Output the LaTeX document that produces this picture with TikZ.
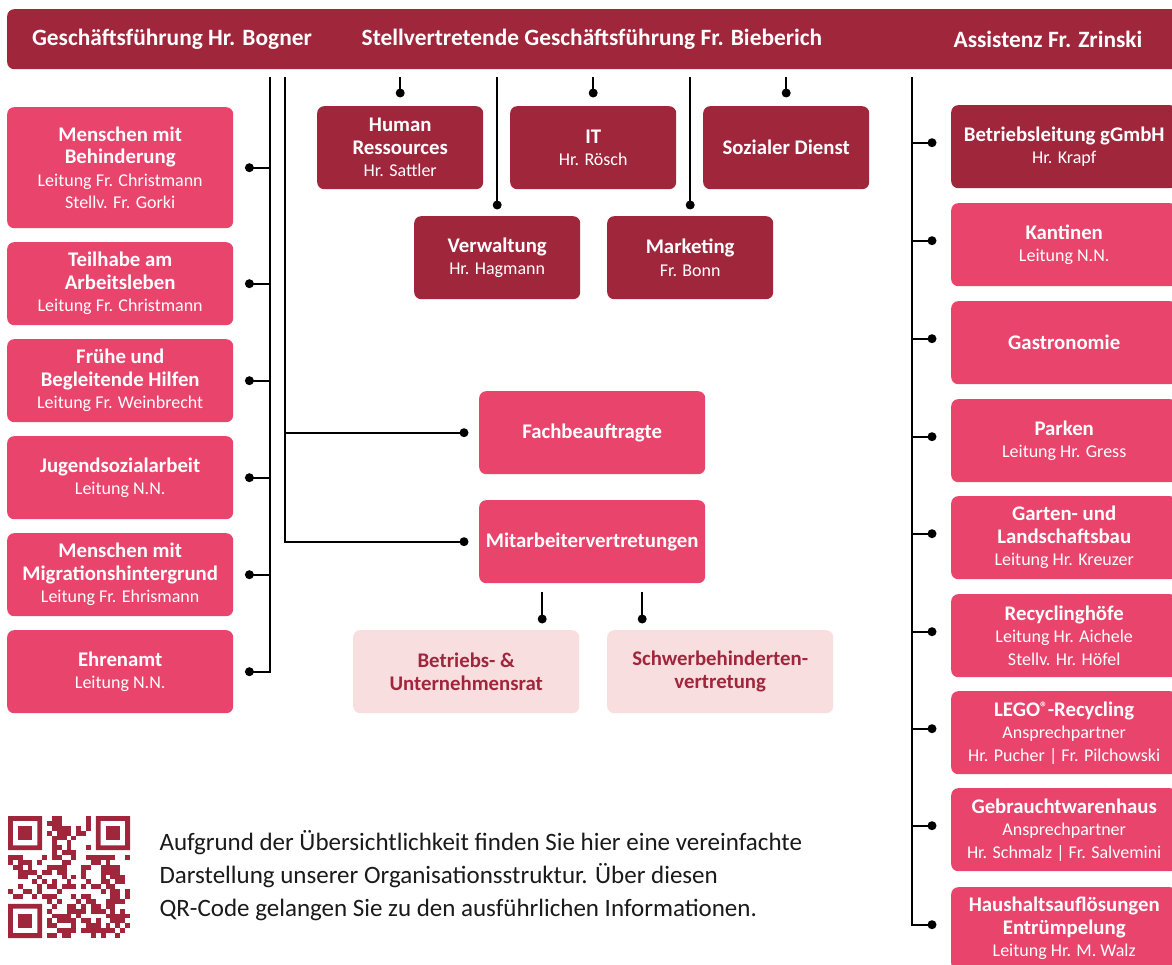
\documentclass[tikz,border=0pt]{standalone}
\usepackage{fontspec}
\setmainfont{Carlito}
\usepackage{xcolor}
\usepackage{tikz}
\usetikzlibrary{calc}
\definecolor{wine}{HTML}{A0263C}
\definecolor{rose}{HTML}{E8446C}
\definecolor{blush}{HTML}{F9DEE0}
\definecolor{ink}{HTML}{1A1A1A}
\newcommand\hd[1]{{\fontsize{20.8}{23}\selectfont\bfseries #1}}
\newcommand\regd{{\fontsize{15}{15}\selectfont\raisebox{4pt}{®}}}
\tikzset{
  box/.style={rounded corners=7pt, minimum width=226pt, minimum height=83pt, inner sep=0pt,
    anchor=north west, align=center, text=white, font=\fontsize{18}{22.5}\selectfont},
  dark/.style={box, fill=wine},
  pink/.style={box, fill=rose},
  pale/.style={box, fill=blush, text=wine},
  head/.style={text=white, font=\fontsize{23.4}{26}\selectfont\bfseries},
  conn/.style={draw=black, line width=2pt},
  dot/.style={circle, fill=black, inner sep=0pt, minimum size=9pt},
}

\begin{document}
\begin{tikzpicture}[x=1pt,y=-1pt]
  \clip (0,0) rectangle (1172,965);
  \fill[white] (0,0) rectangle (1172,965);

  % top bar
  \node[dark, minimum width=1190pt, minimum height=60pt] (bar) at (7,9) {};
  \node[head] (gf) at (172,39) {Geschäftsführung Hr. Bogner};
  \node[head] (sg) at (592,39) {Stellvertretende Geschäftsführung Fr. Bieberich};
  \node[head] (as) at (1048,39) {Assistenz Fr. Zrinski};
  \coordinate (barline) at (0,77);

  % left column
  \node[pink, minimum height=121pt] (mb) at (7,107) {\hd{Menschen mit}\\\hd{Behinderung}\\Leitung Fr. Christmann\\Stellv. Fr. Gorki};
  \node[pink] (ta) at (7,242) {\hd{Teilhabe am}\\\hd{Arbeitsleben}\\Leitung Fr. Christmann};
  \node[pink] (fh) at (7,339) {\hd{Frühe und}\\\hd{Begleitende Hilfen}\\Leitung Fr. Weinbrecht};
  \node[pink] (js) at (7,436) {\hd{Jugendsozialarbeit}\\Leitung N.N.};
  \node[pink] (mm) at (7,533) {\hd{Menschen mit}\\\hd{Migrationshintergrund}\\Leitung Fr. Ehrismann};
  \node[pink] (ea) at (7,630) {\hd{Ehrenamt}\\Leitung N.N.};

  % middle
  \node[dark, minimum width=166pt] (hr) at (317,106) {\hd{Human}\\\hd{Ressources}\\Hr. Sattler};
  \node[dark, minimum width=166pt] (it) at (510,106) {\hd{IT}\\Hr. Rösch};
  \node[dark, minimum width=166pt] (sd) at (703,106) {\hd{Sozialer Dienst}};
  \node[dark, minimum width=166pt] (vw) at (414,216) {\hd{Verwaltung}\\Hr. Hagmann};
  \node[dark, minimum width=166pt] (mk) at (607,216) {\hd{Marketing}\\Fr. Bonn};
  \node[pink] (fb) at (479,391) {\hd{Fachbeauftragte}};
  \node[pink] (mv) at (479,500) {\hd{Mitarbeitervertretungen}};
  \node[pale] (br) at (353,630) {\hd{Betriebs- \&}\\\hd{Unternehmensrat}};
  \node[pale] (sv) at (607,630) {\hd{Schwerbehinderten-}\\\hd{vertretung}};

  % right column
  \node[dark] (bl) at (951,105) {\hd{Betriebsleitung gGmbH}\\Hr. Krapf};
  \node[pink] (ka) at (951,203) {\hd{Kantinen}\\Leitung N.N.};
  \node[pink] (ga) at (951,301) {\hd{Gastronomie}};
  \node[pink] (pa) at (951,399) {\hd{Parken}\\Leitung Hr. Gress};
  \node[pink] (gl) at (951,496) {\hd{Garten- und}\\\hd{Landschaftsbau}\\Leitung Hr. Kreuzer};
  \node[pink] (rh) at (951,594) {\hd{Recyclinghöfe}\\Leitung Hr. Aichele\\Stellv. Hr. Höfel};
  \node[pink] (lr) at (951,691) {\hd{LEGO\regd-Recycling}\\Ansprechpartner\\Hr. Pucher | Fr. Pilchowski};
  \node[pink] (gw) at (951,788) {\hd{Gebrauchtwarenhaus}\\Ansprechpartner\\Hr. Schmalz | Fr. Salvemini};
  \node[pink] (ha) at (951,887) {\hd{Haushaltsauflösungen}\\\hd{Entrümpelung}\\Leitung Hr. M. Walz};

  % connectors
  \coordinate (ltop) at (270,77);
  \coordinate (mtop) at (285,77);
  \coordinate (rtop) at (912,77);
  \foreach \b in {mb,ta,fh,js,mm,ea}
    \draw[conn] ([xshift=16pt]\b.east) node[dot] {} -| (ltop);
  \foreach \b in {fb,mv}
    \draw[conn] ([xshift=-15pt]\b.west) node[dot] {} -| (mtop);
  \foreach \b in {bl,ka,ga,pa,gl,rh,lr,gw,ha}
    \draw[conn] ([xshift=-19pt,yshift=4pt]\b.west) node[dot] {} -| (rtop);
  \foreach \b in {hr,it,sd}
    \draw[conn] ([yshift=13pt]\b.north) node[dot] {} -- (\b.north |- barline);
  \foreach \b in {vw,mk}
    \draw[conn] ([yshift=11pt]\b.north) node[dot] {} -- (\b.north |- barline);
  \foreach \b/\dx in {br/-50,sv/50}
    \draw[conn] ($(mv.south)+(\dx,9)$) -- ($(mv.south |- \b.north)+(\dx,-11)$) node[dot] {};

  % qr code
  \begin{scope}[shift={(8,816)}]
    \pgfmathsetseed{42}
    \foreach \i in {0,...,24}{
      \foreach \j in {0,...,24}{
        \pgfmathrandominteger{\r}{0}{1}
        \pgfmathtruncatemacro\qrskip{((\i<8)&&(\j<8)) || ((\i>16)&&(\j<8)) || ((\i<8)&&(\j>16))}
        \ifnum\qrskip=0 \ifnum\r=1
          \fill[wine] (\i*4.88,\j*4.88) rectangle ++(4.88,4.88);
        \fi\fi
      }
    }
    \foreach \fx/\fy in {0/0,18/0,0/18}{
      \fill[wine, even odd rule] (\fx*4.88,\fy*4.88) rectangle ++(34.16,34.16)
        (\fx*4.88+4.88,\fy*4.88+4.88) rectangle ++(24.4,24.4);
      \fill[wine] (\fx*4.88+9.76,\fy*4.88+9.76) rectangle ++(14.64,14.64);
    }
  \end{scope}
  \node[anchor=base west, align=left, text=ink, font=\fontsize{25}{33}\selectfont] (note) at (156,916)
    {Aufgrund der Übersichtlichkeit finden Sie hier eine vereinfachte\\Darstellung unserer Organisationsstruktur. Über diesen\\QR-Code gelangen Sie zu den ausführlichen Informationen.};
\end{tikzpicture}
\end{document}
